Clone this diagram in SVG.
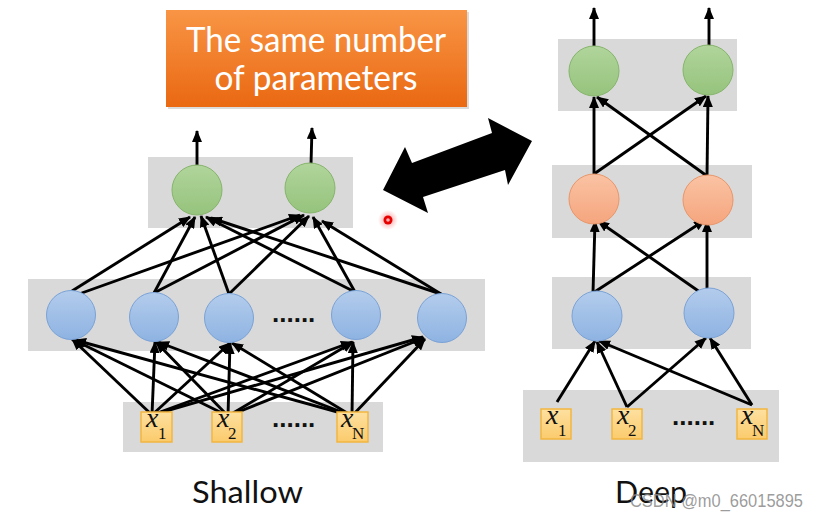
<svg xmlns="http://www.w3.org/2000/svg" width="820" height="519" viewBox="0 0 820 519">
<defs>
<linearGradient id="gBlue" x1="0" y1="0" x2="0" y2="1"><stop offset="0" stop-color="#B3CCEC"/><stop offset="1" stop-color="#8EB3E2"/></linearGradient>
<linearGradient id="gGreen" x1="0" y1="0" x2="0" y2="1"><stop offset="0" stop-color="#B1D59C"/><stop offset="1" stop-color="#95C37C"/></linearGradient>
<linearGradient id="gOrange" x1="0" y1="0" x2="0" y2="1"><stop offset="0" stop-color="#FAC3A4"/><stop offset="1" stop-color="#F5A57D"/></linearGradient>
<linearGradient id="gIn" x1="0" y1="0" x2="0" y2="1"><stop offset="0" stop-color="#FDE0A0"/><stop offset="1" stop-color="#FBCB6C"/></linearGradient>
<linearGradient id="gTitle" x1="0" y1="0" x2="0" y2="1"><stop offset="0" stop-color="#F89545"/><stop offset="1" stop-color="#EA6812"/></linearGradient>
<radialGradient id="gGlow"><stop offset="0" stop-color="#FF3030" stop-opacity="0.5"/><stop offset="1" stop-color="#FF3030" stop-opacity="0"/></radialGradient>
<marker id="ah" markerWidth="12" markerHeight="10" refX="11" refY="5" orient="auto" markerUnits="userSpaceOnUse"><path d="M0,0 L12,5 L0,10 z" fill="#000"/></marker>
<style>
.layer{fill:#D9D9D9}
.blue{fill:url(#gBlue);stroke:#7AA2D6;stroke-width:1}
.green{fill:url(#gGreen);stroke:#86B46C;stroke-width:1}
.orange{fill:url(#gOrange);stroke:#E8966A;stroke-width:1}
.inbox{fill:url(#gIn);stroke:#F2B640;stroke-width:1.5}
.conn line{stroke:#000;stroke-width:2.9;marker-end:url(#ah)}
.xv{font-family:"Liberation Serif",serif;font-style:italic;font-size:28px;fill:#111}
.xs{font-family:"Liberation Serif",serif;font-size:17px;fill:#111}
.dots{font-family:"Liberation Sans",sans-serif;font-weight:bold;font-size:26px;fill:#111}
.label{font-family:Lato,"Liberation Sans",sans-serif;font-size:30px;fill:#111}
.title{font-family:Lato,"Liberation Sans",sans-serif;font-size:34px;fill:#FFF;text-anchor:middle}
</style>
</defs>
<rect width="820" height="519" fill="#FFFFFF"/>

<!-- title -->
<g id="title">
<rect x="168" y="12" width="301" height="97" fill="#999" opacity="0.35"/>
<rect x="166" y="10" width="301" height="97" fill="url(#gTitle)"/>
<text class="title" x="316" y="52" textLength="260" lengthAdjust="spacingAndGlyphs">The same number</text>
<text class="title" x="316" y="90" textLength="203" lengthAdjust="spacingAndGlyphs">of parameters</text>
</g>

<!-- layer backgrounds -->
<g id="layers">
<rect class="layer" x="148" y="157" width="205" height="71"/>
<rect class="layer" x="28" y="279" width="457" height="72"/>
<rect class="layer" x="123" y="402" width="260" height="50"/>
<rect class="layer" x="558" y="39" width="179" height="72"/>
<rect class="layer" x="552" y="165" width="200" height="73"/>
<rect class="layer" x="552" y="277" width="199" height="72"/>
<rect class="layer" x="523" y="390" width="256" height="72"/>
</g>

<!-- double arrow -->
<g id="double-arrow">
<polygon points="383,190 405,147 412,163 492,133 488,118 532,141 508,185 505,170 423,197 428,213" fill="#000"/>
</g>

<!-- red pointer -->
<g id="pointer">
<circle cx="388" cy="220" r="10" fill="url(#gGlow)"/>
<circle cx="388" cy="220" r="4.5" fill="#E60000"/>
<circle cx="388" cy="220" r="1.8" fill="#FFB0B0"/>
</g>

<!-- connectors -->
<g id="connectors" class="conn">
<line x1="197" y1="166" x2="197" y2="131"/>
<line x1="311" y1="164" x2="312" y2="128"/>
<line x1="72" y1="291" x2="190" y2="217"/>
<line x1="79" y1="294" x2="300" y2="215"/>
<line x1="154" y1="293" x2="195" y2="217"/>
<line x1="154" y1="293" x2="304" y2="215"/>
<line x1="229" y1="294" x2="201" y2="216"/>
<line x1="229" y1="294" x2="309" y2="216"/>
<line x1="355" y1="292" x2="206" y2="217"/>
<line x1="355" y1="292" x2="313" y2="217"/>
<line x1="441" y1="294" x2="211" y2="218"/>
<line x1="441" y1="294" x2="322" y2="221"/>
<line x1="152" y1="415" x2="72" y2="339"/>
<line x1="152" y1="415" x2="155" y2="342"/>
<line x1="152" y1="415" x2="230" y2="343"/>
<line x1="152" y1="415" x2="352" y2="342"/>
<line x1="152" y1="415" x2="423" y2="337"/>
<line x1="228" y1="416" x2="74" y2="340"/>
<line x1="228" y1="416" x2="156" y2="342"/>
<line x1="228" y1="416" x2="230" y2="343"/>
<line x1="228" y1="416" x2="353" y2="342"/>
<line x1="228" y1="416" x2="424" y2="338"/>
<line x1="352" y1="416" x2="75" y2="340"/>
<line x1="352" y1="416" x2="158" y2="342"/>
<line x1="352" y1="416" x2="232" y2="343"/>
<line x1="352" y1="416" x2="353" y2="342"/>
<line x1="352" y1="416" x2="425" y2="339"/>
<line x1="594" y1="46" x2="594" y2="8"/>
<line x1="709" y1="46" x2="709" y2="8"/>
<line x1="594" y1="174" x2="594" y2="97"/>
<line x1="594" y1="174" x2="706" y2="96"/>
<line x1="707" y1="176" x2="597" y2="97"/>
<line x1="707" y1="176" x2="708" y2="96"/>
<line x1="593" y1="293" x2="595" y2="221"/>
<line x1="593" y1="293" x2="705" y2="220"/>
<line x1="707" y1="297" x2="598" y2="221"/>
<line x1="707" y1="297" x2="707" y2="221"/>
<line x1="557" y1="402" x2="595" y2="341"/>
<line x1="627" y1="407" x2="597" y2="342"/>
<line x1="752" y1="405" x2="599" y2="341"/>
<line x1="627" y1="407" x2="706" y2="338"/>
<line x1="752" y1="405" x2="710" y2="338"/>
</g>

<!-- shallow nodes -->
<g id="s-out1"><circle class="green" cx="197" cy="190" r="25"/></g>
<g id="s-out2"><circle class="green" cx="310" cy="188" r="25"/></g>
<g id="s-h1"><circle class="blue" cx="71" cy="315" r="24.5"/></g>
<g id="s-h2"><circle class="blue" cx="154" cy="317" r="24.5"/></g>
<g id="s-h3"><circle class="blue" cx="229" cy="318" r="24.5"/></g>
<g id="s-hdots"><text class="dots" x="272" y="322">......</text></g>
<g id="s-h4"><circle class="blue" cx="356" cy="315" r="24.5"/></g>
<g id="s-h5"><circle class="blue" cx="442" cy="318" r="24.5"/></g>

<g id="s-x1"><rect class="inbox" x="141" y="412" width="31" height="30"/><text class="xv" x="146" y="427">x</text><text class="xs" x="158" y="439">1</text></g>
<g id="s-x2"><rect class="inbox" x="212" y="412" width="30" height="30"/><text class="xv" x="217" y="427">x</text><text class="xs" x="228" y="439">2</text></g>
<g id="s-xdots"><text class="dots" x="272" y="427">......</text></g>
<g id="s-xN"><rect class="inbox" x="337" y="412" width="31" height="30"/><text class="xv" x="341" y="427">x</text><text class="xs" x="352" y="439">N</text></g>

<!-- deep nodes -->
<g id="d-out1"><circle class="green" cx="594" cy="71" r="25"/></g>
<g id="d-out2"><circle class="green" cx="708" cy="70" r="25"/></g>
<g id="d-h2a"><circle class="orange" cx="594" cy="199" r="25"/></g>
<g id="d-h2b"><circle class="orange" cx="708" cy="200" r="25"/></g>
<g id="d-h1a"><circle class="blue" cx="597" cy="316" r="25"/></g>
<g id="d-h1b"><circle class="blue" cx="709" cy="313" r="25"/></g>

<g id="d-x1"><rect class="inbox" x="541" y="409" width="30" height="30"/><text class="xv" x="546" y="424">x</text><text class="xs" x="558" y="436">1</text></g>
<g id="d-x2"><rect class="inbox" x="612" y="409" width="30" height="30"/><text class="xv" x="617" y="424">x</text><text class="xs" x="628" y="436">2</text></g>
<g id="d-xdots"><text class="dots" x="672" y="425">......</text></g>
<g id="d-xN"><rect class="inbox" x="737" y="409" width="30" height="30"/><text class="xv" x="741" y="424">x</text><text class="xs" x="752" y="436">N</text></g>

<!-- labels -->
<g id="labels">
<text class="label" x="192" y="503" textLength="111" lengthAdjust="spacingAndGlyphs">Shallow</text>
<text class="label" x="615" y="503" textLength="72" lengthAdjust="spacingAndGlyphs">Deep</text>
<text x="630" y="507" font-family="'Liberation Sans',sans-serif" font-size="18" fill="#8A8A8A" fill-opacity="0.85" textLength="173" lengthAdjust="spacingAndGlyphs">CSDN @m0_66015895</text>
</g>
</svg>
